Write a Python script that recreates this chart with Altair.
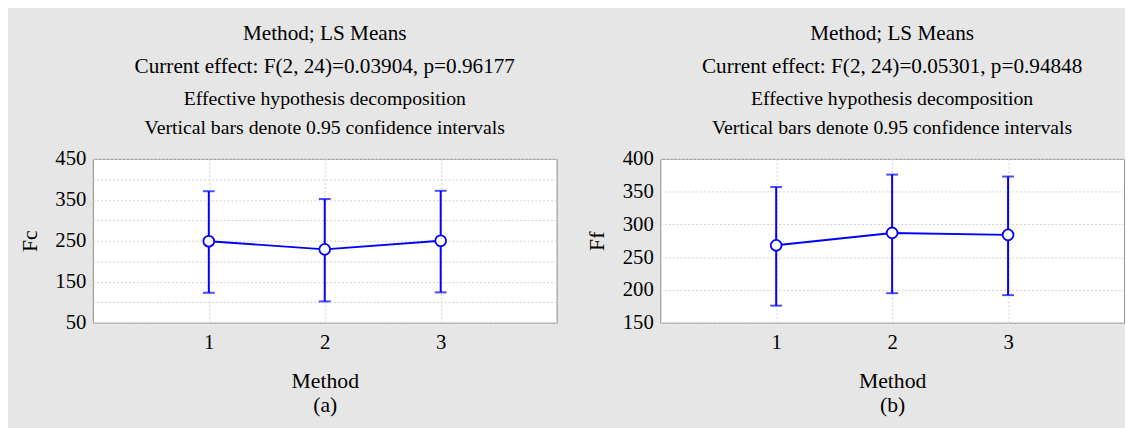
import altair as alt
import pandas as pd

# ---- data ----
methods = [1, 2, 3]

fc_mean = [249, 229, 250]
fc_low = [123, 102, 124]
fc_high = [371, 352, 372]

ff_mean = [268, 287, 284]
ff_low = [176, 195, 192]
ff_high = [357, 376, 373]

fc_title = ["Method; LS Means", "Current effect: F(2, 24)=0.03904, p=0.96177"]
ff_title = ["Method; LS Means", "Current effect: F(2, 24)=0.05301, p=0.94848"]
subtitle = ["Effective hypothesis decomposition",
            "Vertical bars denote 0.95 confidence intervals"]

fc_ticks = [50, 100, 150, 200, 250, 300, 350, 400, 450]
ff_ticks = [150, 200, 250, 300, 350, 400]

FONT = "Liberation Serif"
BLUE = "#0000ff"


def panel(mean, low, high, ytitle, ydomain, yticks, label_expr, title, caption):
    df = pd.DataFrame({"Method": methods, "mean": mean, "low": low, "high": high})
    base = alt.Chart(df)
    x = alt.X("Method:Q",
              scale=alt.Scale(domain=[0, 4], nice=False, zero=False),
              axis=alt.Axis(values=methods, format="d", title=["Method", caption],
                            titleLineHeight=24, titlePadding=19, labelPadding=9,
                            titleFontSize=22,
                            ticks=False, domain=False, grid=True))
    yax = alt.Axis(values=yticks, labelExpr=label_expr, title=ytitle,
                   titlePadding=14, labelPadding=7, ticks=False, domain=False, grid=True)
    ysc = alt.Scale(domain=ydomain, nice=False, zero=False)
    y = alt.Y("mean:Q", scale=ysc, axis=yax)

    rule = base.mark_rule(color=BLUE, strokeWidth=2).encode(
        x=x, y=alt.Y("low:Q", scale=ysc, axis=yax), y2="high:Q")
    cap_lo = base.mark_tick(color=BLUE, orient="horizontal", size=12, thickness=2).encode(
        x=x, y=alt.Y("low:Q", scale=ysc, axis=yax))
    cap_hi = base.mark_tick(color=BLUE, orient="horizontal", size=12, thickness=2).encode(
        x=x, y=alt.Y("high:Q", scale=ysc, axis=yax))
    line = base.mark_line(color=BLUE, strokeWidth=2).encode(x=x, y=y)
    pts = base.mark_point(shape="circle", filled=True, fill="white", stroke=BLUE,
                          strokeWidth=1.8, size=120, opacity=1).encode(x=x, y=y)
    return alt.layer(rule, cap_lo, cap_hi, line, pts).properties(
        width=470, height=166,
        title=alt.TitleParams(text=title, subtitle=subtitle, anchor="middle",
                              fontSize=21.5, lineHeight=33, subtitleFontSize=20,
                              subtitleLineHeight=30, subtitlePadding=12, offset=10,
                              font=FONT, subtitleFont=FONT, fontWeight="normal",
                              color="black", subtitleColor="black"))


left = panel(fc_mean, fc_low, fc_high, "Fc", [50, 450], fc_ticks,
             "datum.value % 100 == 50 ? datum.label : ''", fc_title, "(a)")
right = panel(ff_mean, ff_low, ff_high, "Ff", [150, 400], ff_ticks,
              "datum.label", ff_title, "(b)")

chart = alt.hconcat(left, right, spacing=28).resolve_scale(y="independent").properties(
    background="#e6e6e6",
    padding={"left": 10, "top": 12, "right": 0, "bottom": 20},
).configure_view(
    fill="white", stroke="#8c8c8c", strokeWidth=1
).configure_axis(
    labelFont=FONT, titleFont=FONT, labelFontSize=21, titleFontSize=22,
    labelColor="black", titleColor="black", titleFontWeight="normal",
    gridColor="#d0d0d0", gridDash=[2, 2], gridWidth=1
)

chart.save("out.html", embed_options={"renderer": "svg", "actions": False})
